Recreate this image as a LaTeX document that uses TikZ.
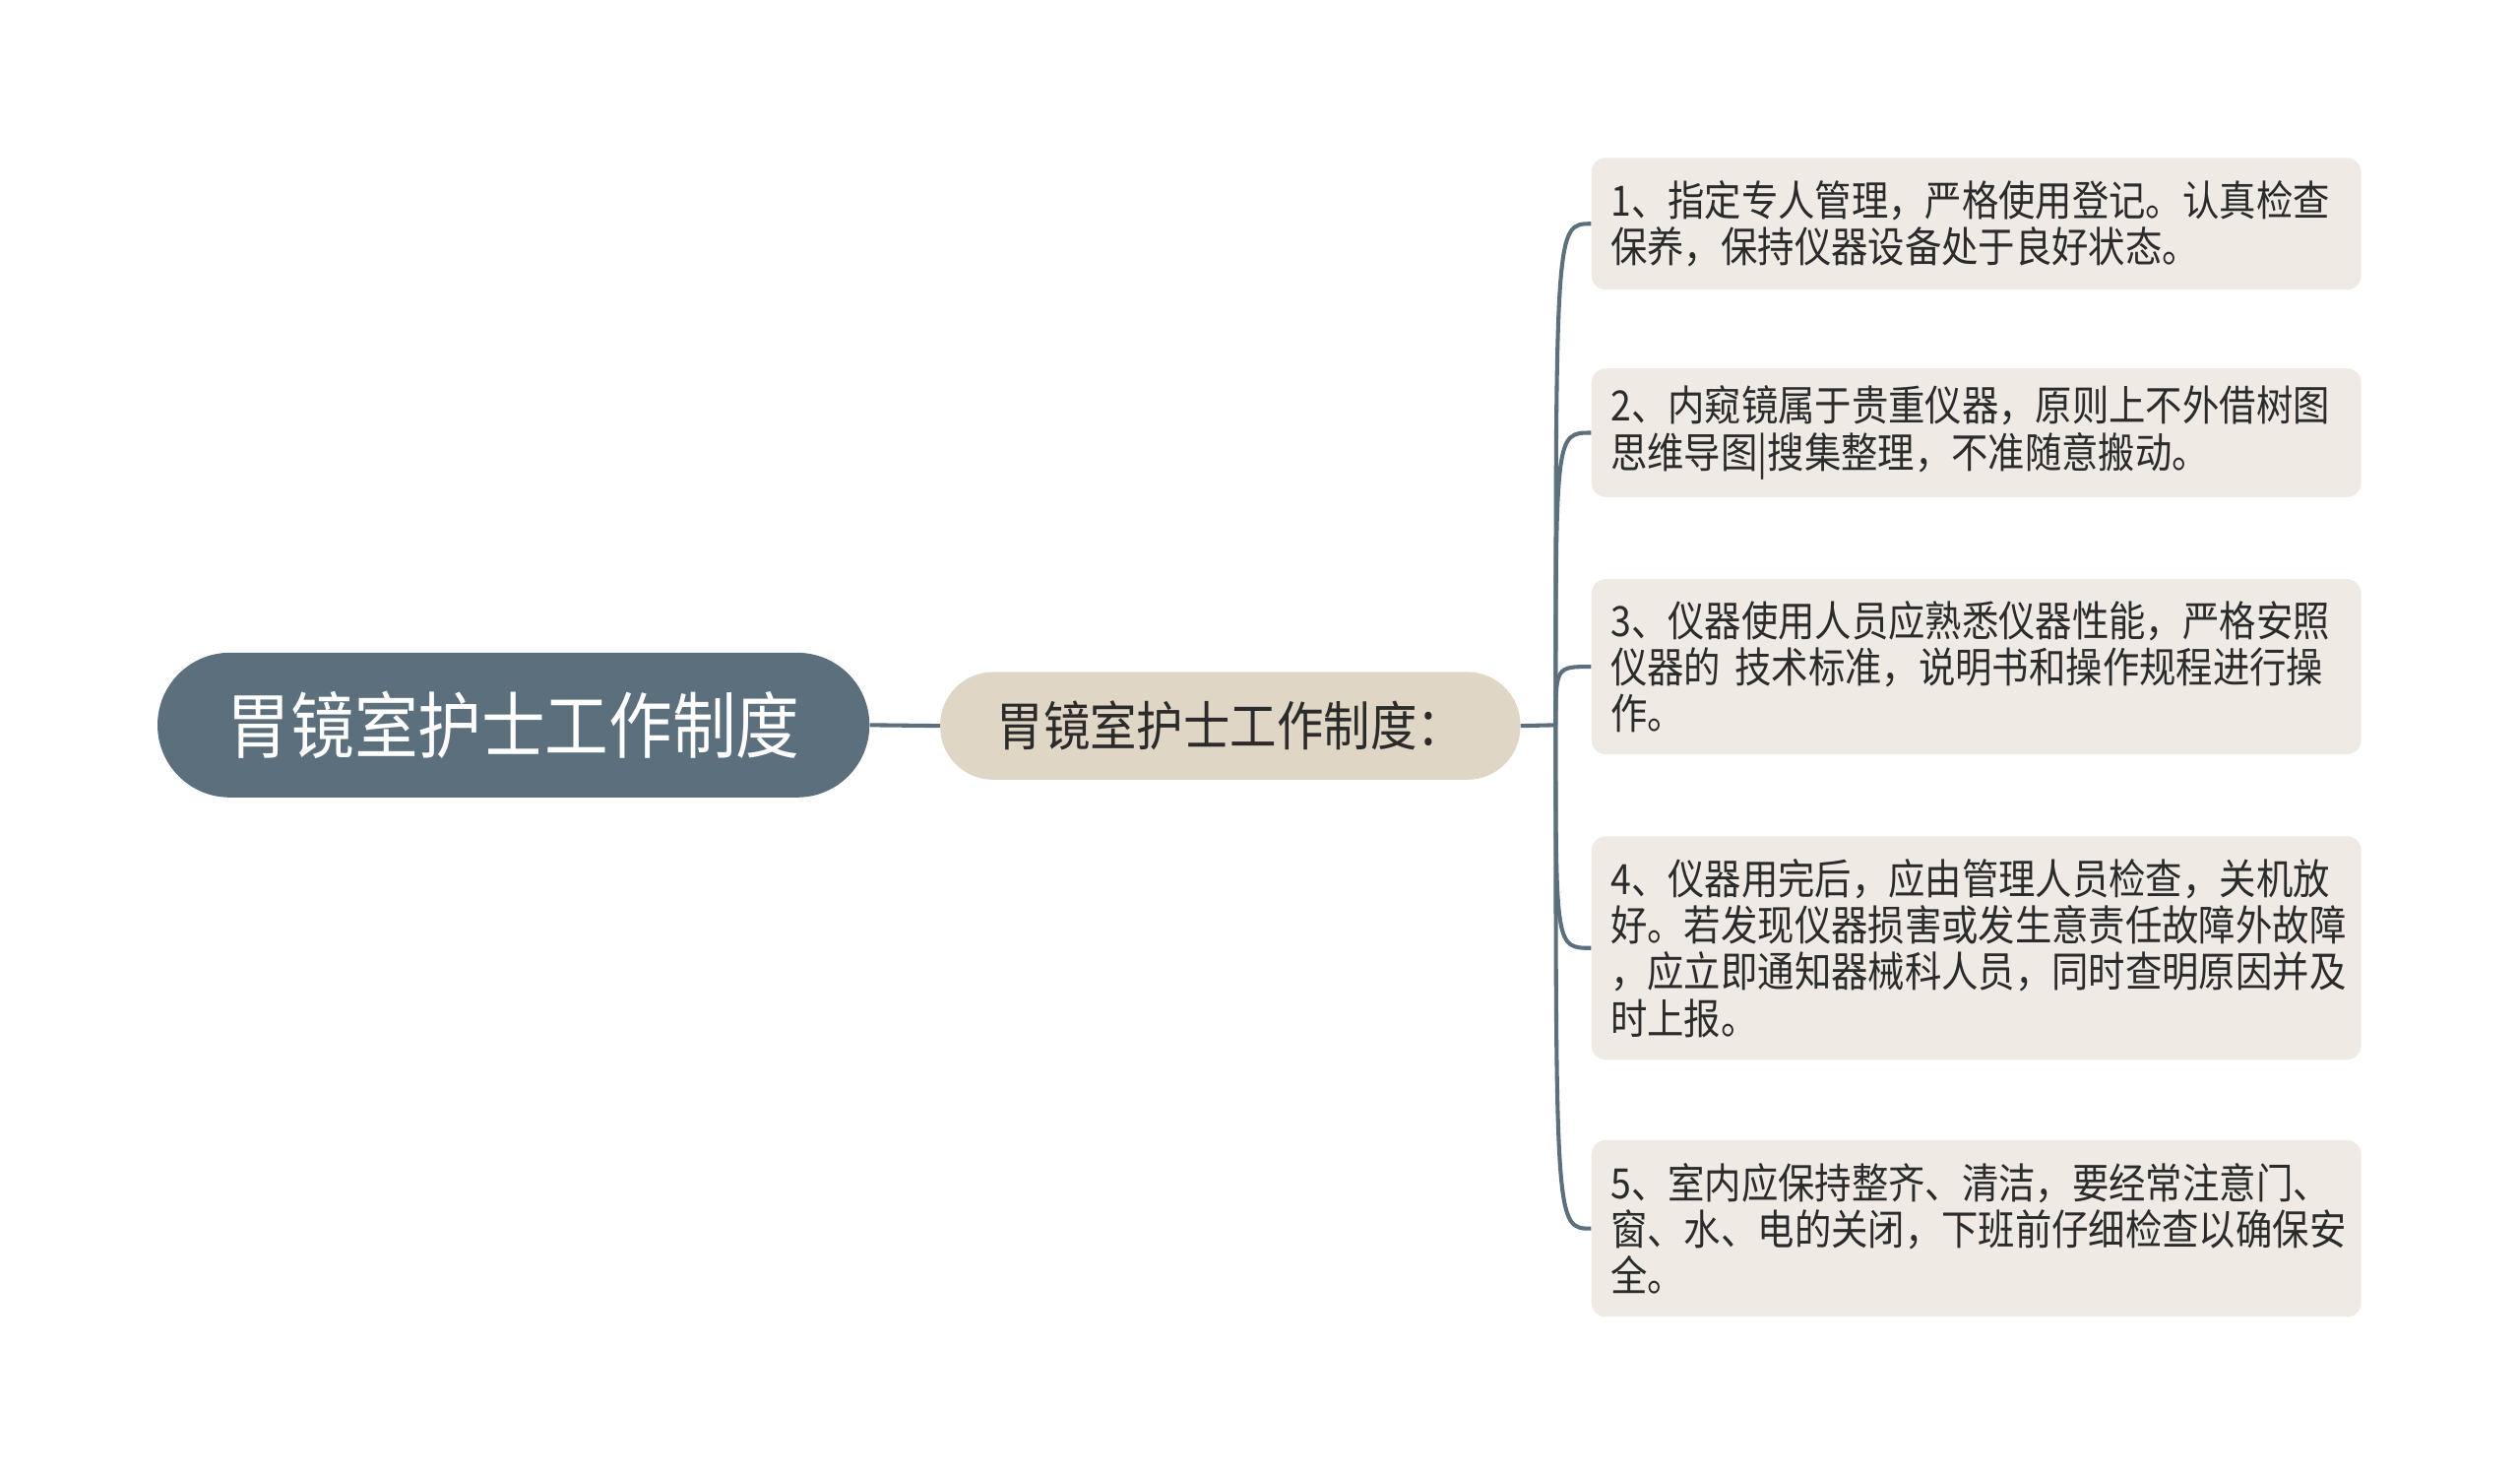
\documentclass[tikz,border=0pt]{standalone}
\usepackage{fontspec}
\setmainfont{Noto Sans CJK SC}[FakeStretch=0.88]
\definecolor{slate}{HTML}{5B6F7C}
\definecolor{midfill}{HTML}{E0D6C6}
\definecolor{leaffill}{HTML}{EFEBE4}
\definecolor{txt}{HTML}{2B2B2B}
\tikzset{
  rootbox/.style={fill=slate, rounded corners=45pt, minimum width=443pt, minimum height=90pt, inner sep=0pt, text=white, font=\fontsize{45}{50}\selectfont},
  midbox/.style={fill=midfill, rounded corners=33pt, minimum width=361pt, minimum height=67pt, inner sep=0pt, text=txt, font=\fontsize{33}{38}\selectfont},
  leafbox/.style={fill=leaffill, rounded corners=9pt, text width=455pt, inner xsep=12pt, inner ysep=0pt, align=left, text=txt, font=\fontsize{26}{29}\selectfont, anchor=north west},
  conn/.style={draw=slate, line width=2.5pt}
}
\begin{document}
\begin{tikzpicture}[x=1pt,y=-1pt]
\useasboundingbox (0,0) rectangle (1568,918);
\node[rootbox] (root) at (319.5,451) {胃镜室护士工作制度};
\node[midbox] (mid) at (765.5,451.5) {胃镜室护士工作制度：};
\node[leafbox, minimum height=82pt] (l1) at (990,98) {1、指定专人管理，严格使用登记。认真检查\\保养，保持仪器设备处于良好状态。};
\node[leafbox, minimum height=80pt] (l2) at (990,229) {2、内窥镜属于贵重仪器，原则上不外借树图\\思维导图|搜集整理，不准随意搬动。};
\node[leafbox, minimum height=109pt] (l3) at (990,360) {3、仪器使用人员应熟悉仪器性能，严格安照\\仪器的 技术标准，说明书和操作规程进行操\\作。};
\node[leafbox, minimum height=139pt] (l4) at (990,520) {4、仪器用完后，应由管理人员检查，关机放\\好。若发现仪器损害或发生意责任故障外故障\\，应立即通知器械科人员，同时查明原因并及\\时上报。};
\node[leafbox, minimum height=110pt] (l5) at (990,709) {5、室内应保持整齐、清洁，要经常注意门、\\窗、水、电的关闭，下班前仔细检查以确保安\\全。};
\coordinate (hub) at (968,451);
\draw[conn] (root.east) -- (mid.west);
\draw[conn] (mid.east) -- (hub);
\foreach \l in {l1,l2,l3,l4,l5}
  \draw[conn] (hub) .. controls (hub |- \l.west) .. (\l.west);
\end{tikzpicture}
\end{document}
